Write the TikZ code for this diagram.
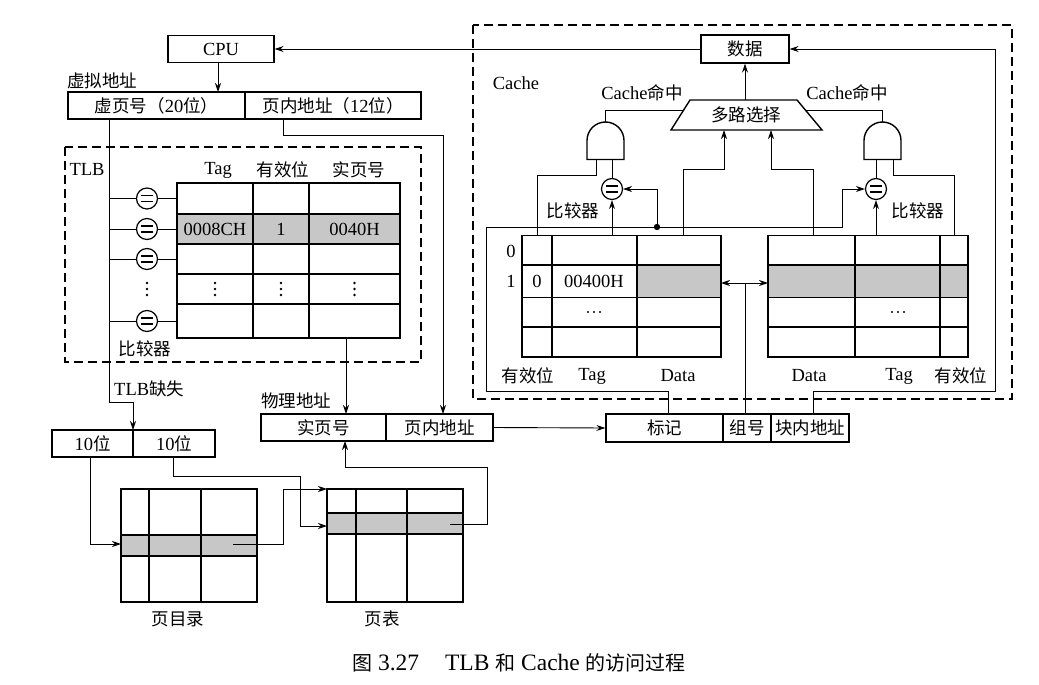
\documentclass[tikz,border=0pt]{standalone}
\usepackage{fontspec}
\setmainfont{Liberation Serif}
\newfontfamily\cjk{Noto Sans CJK SC}
\usetikzlibrary{arrows.meta,calc}
\newcommand{\zh}[1]{{\cjk\fontsize{17.5}{20}\selectfont #1}}
\newcommand{\zhc}[1]{{\cjk\fontsize{20}{24}\selectfont #1}}
\newcommand{\fsz}{\fontsize{18.5}{20}\selectfont}
\begin{document}
\begin{tikzpicture}[x=1pt,y=-1pt,
  box/.style={draw, line width=1.4pt, inner sep=0pt, font=\fsz},
  ln/.style={line width=0.9pt},
  tip/.style={},
  arr/.style={ln, -{Stealth[length=9pt,width=6pt,inset=3pt]}},
  darr/.style={ln, {Stealth[length=9pt,width=6pt,inset=3pt]}-{Stealth[length=9pt,width=6pt,inset=3pt]}},
  dbox/.style={line width=1.6pt, dash pattern=on 9pt off 5pt},
  tbl/.style={line width=1.4pt},
  shade/.style={fill=black!22},
  cmp/.style={circle, draw, line width=1.2pt, minimum size=21pt, inner sep=0pt},
  eqbar/.style={line width=1.2pt},
  lab/.style={inner sep=0pt, font=\fsz}]
\useasboundingbox (0,0) rectangle (1039,685);
\fill[white] (0,0) rectangle (1039,685);

% ---------- top-left: CPU and virtual address ----------
\node[box, minimum width=106pt, minimum height=27pt] (cpu) at (221,49) {CPU};
\node[lab] (valab) at (102,81) {\zh{虚拟地址}};
\node[box, minimum width=177pt, minimum height=27pt] (va1) at (156.5,105.5) {\zh{虚页号（}20\zh{位）}};
\node[box, minimum width=176pt, minimum height=27pt] (va2) at (333,105.5) {\zh{页内地址（}12\zh{位）}};
\draw[arr] (218,62.5) -- (218,92);

% ---------- TLB ----------
\draw[dbox] (65,147) rectangle (421,362);
\node[lab] (tlblab) at (87,169) {TLB};
\node[lab] at (218,170) {Tag};
\node[lab] at (283,170) {\zh{有效位}};
\node[lab] at (359,170) {\zh{实页号}};
\fill[shade] (177,214) rectangle (400,244);
\draw[tbl] (177,183) rectangle (400,338);
\foreach \yy in {214,244,274,304} \draw[tbl] (177,\yy) -- (400,\yy);
\foreach \xx in {253,309} \draw[tbl] (\xx,183) -- (\xx,338);
\node[lab] at (215,229) {0008CH};
\node[lab] at (281,229) {1};
\node[lab] at (354.5,229) {0040H};
\foreach \xx in {147,215,281,354.5}
  \foreach \dy in {-6,0,6} \fill (\xx,289+\dy) circle[radius=1.4];
\foreach \nm/\yy in {c1/198.5,c2/229,c3/259,c4/321}{
  \node[cmp] (\nm) at (147,\yy) {};
  \draw[eqbar] ([shift={(-6,-3)}]\nm.center) -- ++(12,0);
  \draw[eqbar] ([shift={(-6,3)}]\nm.center) -- ++(12,0);
  \draw[ln] (109,\yy) -- (\nm.west);
  \draw[ln] (\nm.east) -- (177,\yy);
}
\node[lab] at (145,349) {\zh{比较器}};

% virtual page number line -> TLB miss
\draw[arr] (109,119) -- (109,402) -- (133,402) -- (133,430);
\node[lab, anchor=west] at (114,389) {TLB\zh{缺失}};

% page offset line -> physical address
\draw[arr] (283,119) -- (283,135) -- (443,135) -- (443,414);

% ---------- physical address ----------
\node[lab] at (296,401) {\zh{物理地址}};
\node[box, minimum width=125pt, minimum height=27pt] (pa1) at (323.5,427.5) {\zh{实页号}};
\node[box, minimum width=107pt, minimum height=27pt] (pa2) at (439.5,427.5) {\zh{页内地址}};
\draw[arr] (346,338) -- (346,414);

% ---------- two-level page table ----------
\node[box, minimum width=81pt, minimum height=27pt] (b1) at (92.5,443.5) {10\zh{位}};
\node[box, minimum width=82pt, minimum height=27pt] (b2) at (174,443.5) {10\zh{位}};
% page directory
\fill[shade] (121,535) rectangle (257,556);
\draw[tbl] (121,489) rectangle (257,602);
\foreach \yy in {535,556} \draw[tbl] (121,\yy) -- (257,\yy);
\foreach \xx in {149,201} \draw[tbl] (\xx,489) -- (\xx,602);
\node[lab] at (178,619) {\zh{页目录}};
% page table
\fill[shade] (327,513) rectangle (463,534);
\draw[tbl] (327,489) rectangle (463,602);
\foreach \yy in {513,534} \draw[tbl] (327,\yy) -- (463,\yy);
\foreach \xx in {356,407} \draw[tbl] (\xx,489) -- (\xx,602);
\node[lab] at (382,619) {\zh{页表}};
\draw[arr] (90,457) -- (90,544) -- (121,544);
\draw[arr] (173,457) -- (173,476) -- (300,476) -- (300,526) -- (327,526);
\draw[arr] (233,544) -- (283,544) -- (283,489) -- (327,489);
\draw[arr] (450,524) -- (487,524) -- (487,467) -- (345,467) -- (345,441);

% ---------- cache address ----------
\node[box, minimum width=117pt, minimum height=28pt] (tg) at (664.5,428) {\zh{标记}};
\node[box, minimum width=48pt, minimum height=28pt] (grp) at (747,428) {\zh{组号}};
\node[box, minimum width=78pt, minimum height=28pt] (off) at (810,428) {\zh{块内地址}};
\draw[arr] (pa2.east) -- (tg.west);

% ---------- Cache ----------
\draw[dbox] (473,25) rectangle (1012,399);
\node[lab] at (516,83) {Cache};
\node[box, minimum width=88pt, minimum height=28pt] (data) at (745,49) {\zh{数据}};
\draw[arr] (data.west) -- (cpu.east);
\draw[arr] (813,414) -- (813,391) -- (995,391) -- (995,49) -- (data.east);

% multiplexer
\draw[line width=1.4pt] (690,100) -- (797,100) -- (822,130) -- (671,130) -- cycle;
\node[lab] (mux) at (746,115) {\zh{多路选择}};
\draw[arr] (745,100) -- (data.south);
\node[lab] at (642,93) {Cache\zh{命中}};
\node[lab] at (847,93) {Cache\zh{命中}};

% AND gates
\draw[line width=1.4pt] (587,159.5) -- (587,140.5) arc[start angle=180, end angle=360, radius=18.5] -- (624,159.5) -- cycle;
\draw[line width=1.4pt] (864,159.5) -- (864,140.5) arc[start angle=180, end angle=360, radius=18.5] -- (901,159.5) -- cycle;
\draw[ln] (605,122) -- (605,110) -- (683.7,110);
\draw[ln] (882.5,122) -- (882.5,110) -- (805,110);

% comparators
\node[cmp] (lc) at (612,189) {};
\node[cmp] (rc) at (876,189) {};
\foreach \nm in {lc,rc}{
  \draw[eqbar] ([shift={(-6,-3)}]\nm.center) -- ++(12,0);
  \draw[eqbar] ([shift={(-6,3)}]\nm.center) -- ++(12,0);
}
\node[lab] at (573,211) {\zh{比较器}};
\node[lab] at (918,211) {\zh{比较器}};
\draw[ln] (lc.north) -- (612,159.5);
\draw[ln] (rc.north) -- (876,159.5);
\draw[arr] (612,235.5) -- (lc.south);
\draw[arr] (876,235.5) -- (rc.south);
\draw[ln] (537,235.5) -- (537,175) -- (596,175) -- (596,159.5);
\draw[ln] (954,235.5) -- (954,175) -- (893,175) -- (893,159.5);
\draw[arr] (683,235.5) -- (683,169) -- (724,169) -- (724,130);
\draw[arr] (813,235.5) -- (813,169) -- (771,169) -- (771,130);

% tag lines
\draw[arr] (668,414) -- (668,391) -- (486.5,391) -- (486.5,227) -- (842,227) -- (842,189) -- (rc.west);
\fill (657,227) circle[radius=3.2];
\draw[arr, line width=0.7pt] (657,227) -- (657,189) -- (lc.east);

% set index
\draw[ln] (745,414) -- (745,283);
\draw[darr] (721,283) -- (768,283);

% left cache array
\fill[shade] (637,265) rectangle (721,297.5);
\draw[tbl] (522,235.5) rectangle (721,357);
\foreach \yy in {265,297.5,327} \draw[tbl] (522,\yy) -- (721,\yy);
\foreach \xx in {552,637} \draw[tbl] (\xx,235.5) -- (\xx,357);
\node[lab] at (511,251) {0};
\node[lab] at (511,281) {1};
\node[lab] at (537,281) {0};
\node[lab] at (594,281) {00400H};
\foreach \dx in {-6,0,6} \fill (594+\dx,312) circle[radius=1.2];
% right cache array
\fill[shade] (768,265) rectangle (968,297.5);
\draw[tbl] (768,235.5) rectangle (968,357);
\foreach \yy in {265,297.5,327} \draw[tbl] (768,\yy) -- (968,\yy);
\foreach \xx in {855,940} \draw[tbl] (\xx,235.5) -- (\xx,357);
\foreach \dx in {-6,0,6} \fill (898+\dx,312) circle[radius=1.2];
% column labels
\node[lab] at (528,376) {\zh{有效位}};
\node[lab] at (592,376) {Tag};
\node[lab] at (678,376) {Data};
\node[lab] at (809,376) {Data};
\node[lab] at (899,376) {Tag};
\node[lab] at (961,376) {\zh{有效位}};

% ---------- caption ----------
\node[inner sep=0pt, font=\fontsize{23.5}{26}\selectfont] (cap) at (519,663)
  {\zhc{图} 3.27\hspace{1.1em}TLB \zhc{和} Cache \zhc{的访问过程}};
\end{tikzpicture}
\end{document}
